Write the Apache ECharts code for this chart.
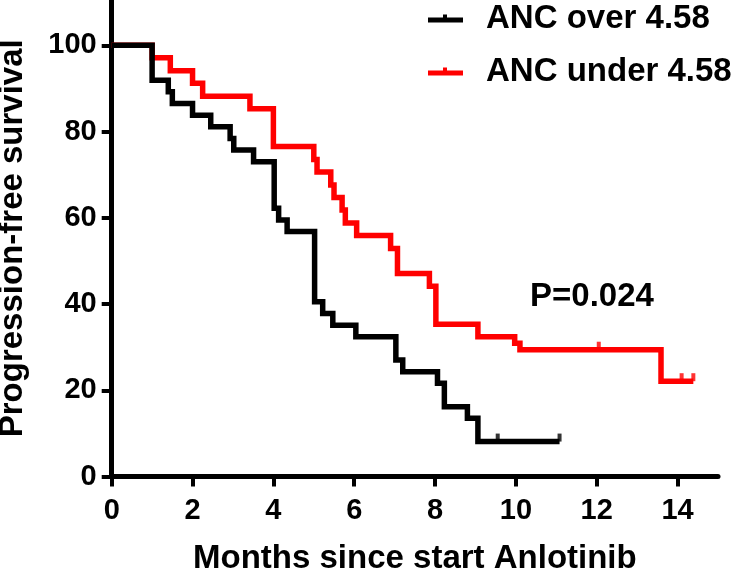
<!DOCTYPE html>
<html>
<head>
<meta charset="utf-8">
<script src="https://cdn.jsdelivr.net/npm/echarts@6/dist/echarts.min.js"></script>
<style>html,body{margin:0;padding:0;background:#fff}#c{width:734px;height:572px}</style>
</head>
<body>
<div id="c"></div>
<script>
// ---- data ----
const seriesNames = ['ANC over 4.58', 'ANC under 4.58'];
const blackMonths = [0, 1.0, 1.4, 1.5, 2.0, 2.45, 2.93, 3.02, 3.51, 4.02, 4.13, 4.34, 5.02, 5.22, 5.47, 6.04, 7.03, 7.2, 8.06, 8.23, 8.8, 9.06, 11.08];
const blackSurv   = [100, 91.9, 89.2, 86.5, 83.8, 81.1, 78.4, 75.7, 73.0, 62.2, 59.5, 56.8, 40.5, 37.8, 35.1, 32.4, 27.0, 24.3, 21.6, 16.2, 13.5, 8.1, 8.1];
const redMonths   = [0, 1.0, 1.45, 2.0, 2.25, 3.42, 4.0, 5.0, 5.08, 5.42, 5.5, 5.7, 5.78, 6.06, 6.9, 7.07, 7.86, 8.02, 9.06, 9.97, 10.1, 13.59, 14.39];
const redSurv     = [100, 97.1, 94.1, 91.2, 88.2, 85.3, 76.5, 73.5, 70.6, 67.6, 64.7, 61.8, 58.8, 55.9, 52.9, 47.1, 44.1, 35.3, 32.4, 30.9, 29.4, 22.1, 22.1];
const blackCensorMonths = [9.55, 11.08];
const blackCensorSurv   = [8.1, 8.1];
const redCensorMonths   = [12.05, 14.1, 14.39];
const redCensorSurv     = [29.4, 22.1, 22.1];
const xTicks = [0, 2, 4, 6, 8, 10, 12, 14];
const yTicks = [0, 20, 40, 60, 80, 100];
const pValueText = 'P=0.024';
const xTitle = 'Months since start Anlotinib';
const yTitle = 'Progression-free survival';

const zip = (a, b) => a.map((v, i) => [v, b[i]]);
const FONT = '"Liberation Sans", Arial, Helvetica, sans-serif';
const legendIcon = 'path://M0,3H15V0H19V3H35V8H0Z';
const censorSymbol = 'path://M0,0H4V10H0Z';

const chart = echarts.init(document.getElementById('c'), null, {renderer: 'canvas'});
chart.setOption({
  animation: false,
  backgroundColor: '#fff',
  title: {
    text: pValueText, left: 530, top: 280, padding: 0,
    textStyle: {fontFamily: FONT, fontWeight: 'bold', fontSize: 33, color: '#000'}
  },
  legend: {
    orient: 'vertical', left: 428, top: 2, itemGap: 20,
    itemWidth: 35, itemHeight: 8, padding: 0,
    data: [
      {name: seriesNames[0], icon: legendIcon, itemStyle: {color: '#000'}},
      {name: seriesNames[1], icon: legendIcon, itemStyle: {color: '#ff0000'}}
    ],
    textStyle: {fontFamily: FONT, fontWeight: 'bold', fontSize: 33, color: '#000', lineHeight: 33, padding: [0, 0, 0, 18]}
  },
  grid: {left: 111.7, right: 16, top: 0, bottom: 95.5, containLabel: false, outerBoundsMode: 'none'},
  xAxis: {
    type: 'value', min: 0, max: 15,
    name: xTitle, nameLocation: 'middle', nameGap: 66,
    nameTextStyle: {fontFamily: FONT, fontWeight: 'bold', fontSize: 33, color: '#000'},
    axisLine: {lineStyle: {color: '#000', width: 5}},
    axisTick: {show: true, length: 10, lineStyle: {color: '#000', width: 4}, customValues: xTicks},
    axisLabel: {fontFamily: FONT, fontWeight: 'bold', fontSize: 29, color: '#000', margin: 20, customValues: xTicks},
    splitLine: {show: false}
  },
  yAxis: {
    type: 'value', min: 0, max: 110.5,
    name: yTitle, nameLocation: 'middle', nameGap: 82,
    nameTextStyle: {fontFamily: FONT, fontWeight: 'bold', fontSize: 33, color: '#000'},
    axisLine: {show: true, lineStyle: {color: '#000', width: 5}},
    axisTick: {show: true, length: 10, lineStyle: {color: '#000', width: 4}, customValues: yTicks},
    axisLabel: {fontFamily: FONT, fontWeight: 'bold', fontSize: 29, color: '#000', margin: 15, customValues: yTicks},
    splitLine: {show: false}
  },
  series: [
    {
      name: seriesNames[0], type: 'line', step: 'end', data: zip(blackMonths, blackSurv),
      showSymbol: false, symbol: 'none', color: '#000',
      lineStyle: {color: '#000', width: 5.5, join: 'miter', cap: 'butt'}, z: 3
    },
    {
      name: seriesNames[1], type: 'line', step: 'end', data: zip(redMonths, redSurv),
      showSymbol: false, symbol: 'none', color: '#ff0000',
      lineStyle: {color: '#ff0000', width: 5.5, join: 'miter', cap: 'butt'}, z: 2
    },
    {
      type: 'scatter', data: zip(blackCensorMonths, blackCensorSurv),
      symbol: censorSymbol, symbolSize: [4, 8], symbolOffset: [0, -4],
      itemStyle: {color: '#000'}, z: 4, silent: true
    },
    {
      type: 'scatter', data: zip(redCensorMonths, redCensorSurv),
      symbol: censorSymbol, symbolSize: [4, 8], symbolOffset: [0, -4],
      itemStyle: {color: '#ff0000'}, z: 4, silent: true
    }
  ]
});
</script>
</body>
</html>
